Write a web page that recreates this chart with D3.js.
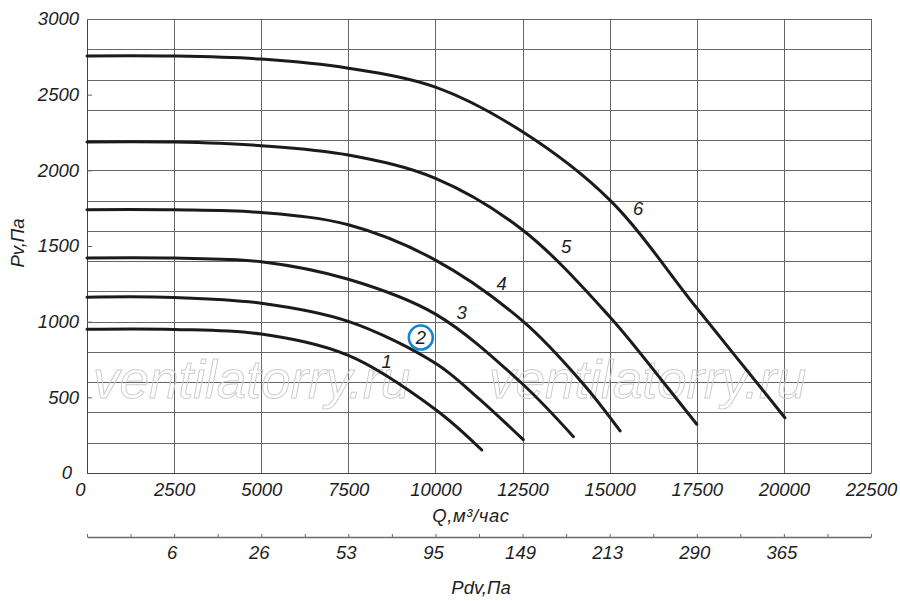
<!DOCTYPE html>
<html>
<head>
<meta charset="utf-8">
<script src="https://cdn.jsdelivr.net/npm/d3@7"></script>
<style>
  body { margin: 0; background: #fff; }
  text { font-family: "Liberation Sans", Arial, sans-serif; font-style: italic; fill: #1e1e1e; }
</style>
</head>
<body>
<div id="chart"></div>
<script>
// fan curves, Q in m3/h, Pv in Pa
const curveNames = ["1", "2", "3", "4", "5", "6"];
const q1 = [0, 2500, 5000, 7500, 10000, 11330];
const p1 = [950, 949, 918, 777, 420, 152];
const q2 = [0, 2500, 5000, 7500, 10000, 11180, 12520];
const p2 = [1162, 1160, 1122, 1002, 725, 505, 220];
const q3 = [0, 2500, 5000, 7500, 10000, 12430, 13960];
const p3 = [1421, 1420, 1396, 1280, 1050, 603, 240];
const q4 = [0, 2500, 5000, 7500, 10000, 12500, 14200, 15300];
const p4 = [1740, 1739, 1721, 1640, 1407, 1005, 600, 278];
const q5 = [0, 2500, 5000, 7500, 10000, 12500, 15000, 16540, 17500];
const p5 = [2188, 2187, 2163, 2101, 1947, 1606, 1033, 600, 322];
const q6 = [0, 2500, 5000, 7500, 10000, 12500, 15000, 17500, 20030];
const p6 = [2756, 2755, 2735, 2675, 2550, 2255, 1805, 1090, 365];

// where the curve numbers sit (in Q / Pv units)
const labelQ = [8600, 9580, 10750, 11900, 13750, 15820];
const labelP = [735, 895, 1065, 1255, 1495, 1750];
const markedCurve = "2";

// axis ticks
const qTicks = [0, 2500, 5000, 7500, 10000, 12500, 15000, 17500, 20000, 22500];
const pvTicks = [0, 500, 1000, 1500, 2000, 2500, 3000];
const pdvAt = [2500, 5000, 7500, 10000, 12500, 15000, 17500, 20000];
const pdvLabels = ["6", "26", "53", "95", "149", "213", "290", "365"];
const watermark = "ventilatorry.ru";

const series = [[q1, p1], [q2, p2], [q3, p3], [q4, p4], [q5, p5], [q6, p6]].map(
  ([q, p], i) => ({ name: curveNames[i], values: q.map((d, j) => ({ q: d, p: p[j] })) })
);

const width = 900, height = 601;
const margin = { top: 19, right: 29, bottom: 128, left: 87 };

const svg = d3.select("#chart").append("svg")
  .attr("width", width)
  .attr("height", height);

const x = d3.scaleLinear().domain([0, 22500]).range([margin.left, width - margin.right]);
const y = d3.scaleLinear().domain([0, 3000]).range([height - margin.bottom, margin.top]);

// grid
const grid = svg.append("g").attr("stroke", "#666").attr("stroke-width", 1);
grid.selectAll("line.h")
  .data(d3.range(0, 3001, 200))
  .join("line")
  .attr("class", "h")
  .attr("x1", x(0)).attr("x2", x(22500))
  .attr("y1", d => Math.round(y(d)) + 0.5).attr("y2", d => Math.round(y(d)) + 0.5);
grid.selectAll("line.v")
  .data(qTicks)
  .join("line")
  .attr("class", "v")
  .attr("y1", y(0)).attr("y2", y(3000))
  .attr("x1", d => Math.round(x(d)) + 0.5).attr("x2", d => Math.round(x(d)) + 0.5);

// watermark (outlined, light)
[93, 489].forEach(wx => {
  svg.append("text")
    .attr("x", wx)
    .attr("y", 398)
    .style("font-size", "53px")
    .style("fill", "none")
    .attr("stroke", "#cdcdcd")
    .attr("stroke-width", 1)
    .text(watermark);
});

// left axis
const yAxis = svg.append("g")
  .attr("transform", `translate(${x(0)},0)`)
  .call(d3.axisLeft(y).tickValues(pvTicks).tickFormat(d3.format("d"))
    .tickSizeInner(-5).tickSizeOuter(0).tickPadding(12));
yAxis.select(".domain").attr("stroke", "#444");
yAxis.selectAll(".tick line").attr("stroke", "#666");
yAxis.selectAll(".tick text")
  .style("font-size", "18.5px")
  .attr("font-family", null)
  .attr("fill", null)
  .attr("x", d => (d === 0 ? -15 : -8));

// bottom axis
const xAxis = svg.append("g")
  .attr("transform", `translate(0,${y(0)})`)
  .call(d3.axisBottom(x).tickValues(qTicks).tickFormat(d3.format("d")).tickSize(0).tickPadding(10));
xAxis.select(".domain").attr("stroke", "#444");
xAxis.selectAll(".tick text")
  .style("font-size", "18.5px")
  .attr("font-family", null)
  .attr("fill", null)
  .attr("dx", d => (d === 0 ? -7 : 0));

svg.append("text")
  .attr("x", 471)
  .attr("y", 522)
  .attr("text-anchor", "middle")
  .style("font-size", "18.5px")
  .style("letter-spacing", "0.6px")
  .text("Q,м³/час");

// secondary Pdv scale
const pdvY = 537;
const pdv = svg.append("g")
  .attr("transform", `translate(0,${pdvY})`)
  .call(d3.axisTop(x).tickValues(d3.range(0, 22501, 1250)).tickSize(3).tickSizeOuter(0).tickFormat(""));
pdv.select(".domain").attr("stroke", "#6a6a6a").attr("stroke-width", 1.5);
pdv.selectAll(".tick line").attr("stroke", "#6a6a6a");

svg.append("g")
  .selectAll("text")
  .data(pdvAt)
  .join("text")
  .attr("x", d => x(d) - 2)
  .attr("y", pdvY + 22)
  .attr("text-anchor", "middle")
  .style("font-size", "18.5px")
  .text((d, i) => pdvLabels[i]);

svg.append("text")
  .attr("x", 481)
  .attr("y", 594)
  .attr("text-anchor", "middle")
  .style("font-size", "18.5px")
  .text("Pdv,Па");

svg.append("text")
  .attr("transform", "translate(24,243) rotate(-90)")
  .attr("text-anchor", "middle")
  .style("font-size", "18.5px")
  .text("Pv,Па");

// curves
const line = d3.line()
  .x(d => x(d.q))
  .y(d => y(d.p))
  .curve(d3.curveCatmullRom.alpha(0.5));

svg.append("g")
  .selectAll("path")
  .data(series)
  .join("path")
  .attr("d", d => line(d.values))
  .attr("fill", "none")
  .attr("stroke", "#1b1b1b")
  .attr("stroke-width", 3)
  .attr("stroke-linecap", "round");

// curve numbers
const labels = svg.append("g")
  .selectAll("g")
  .data(curveNames)
  .join("g")
  .attr("transform", (d, i) => `translate(${x(labelQ[i])},${y(labelP[i])})`);
labels.filter(d => d === markedCurve)
  .append("circle")
  .attr("r", 12)
  .attr("fill", "none")
  .attr("stroke", "#1187d4")
  .attr("stroke-width", 2.6);
labels.append("text")
  .attr("text-anchor", "middle")
  .attr("dy", "0.36em")
  .style("font-size", "18.5px")
  .text(d => d);
</script>
</body>
</html>
